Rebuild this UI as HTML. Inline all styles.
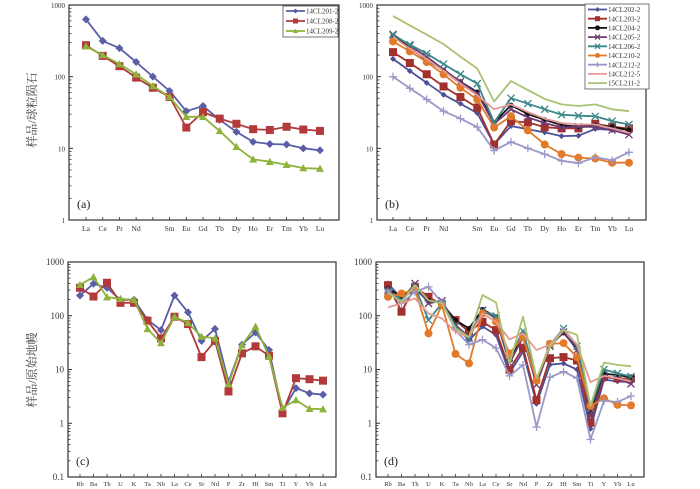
<!DOCTYPE html>
<html><head><meta charset="utf-8"><style>
html,body{margin:0;padding:0;background:#fff;}
svg{display:block;font-family:"Liberation Serif","Noto Serif CJK SC",serif;}
</style></head><body>
<svg id="fig" width="700" height="489" viewBox="0 0 700 489" xmlns="http://www.w3.org/2000/svg">
<text transform="translate(36,110) rotate(-90)" text-anchor="middle" font-size="12" fill="#444" font-family="Liberation Serif, Noto Serif CJK SC, serif">样品/球粒陨石</text>
<text transform="translate(36,370) rotate(-90)" text-anchor="middle" font-size="12" fill="#444" font-family="Liberation Serif, Noto Serif CJK SC, serif">样品/原始地幔</text>
</svg>
<script>
const reeCats=["La","Ce","Pr","Nd","","Sm","Eu","Gd","Tb","Dy","Ho","Er","Tm","Yb","Lu"];
const pmCats=["Rb","Ba","Th","U","K","Ta","Nb","La","Ce","Sr","Nd","P","Zr","Hf","Sm","Ti","Y","Yb","Lu"];
const aNames=["14CL201-2","14CL208-2","14CL209-2"];
const a201=[630,316,250,160,100,63,33,39,25,17,12.3,11.5,11.3,10,9.4];
const a208=[275,195,140,97,70,52,19.5,32,26,22,18.5,18,20,18.3,17.5];
const a209=[265,200,150,108,74,52,27.5,27.5,17.5,10.5,7,6.5,5.9,5.3,5.2];
const bNames=["14CL202-2","14CL203-2","14CL204-2","14CL205-2","14CL206-2","14CL210-2","14CL212-2","14CL212-5","15CL211-2"];
const b202=[177,120,82,56,42,31,11.3,20.5,18.5,16.7,14.8,15,18.7,18,18.7];
const b203=[220,155,108,73,52,37,11.3,24,23,19.7,19,19,22,20,19];
const b204=[370,250,170,123,85,61,23,40,30,25,21,20,21,20,18];
const b205=[390,270,190,126,85,58,22,35,27,22.6,19.5,20,20,18,15.5];
const b206=[380,280,210,150,108,80,23,50,42,35,29.5,28.5,28,24,21.5];
const b210=[310,225,160,108,70,48,19.5,28,17.8,11.3,8.3,7.4,7.2,6.3,6.3];
const b2122=[100,69,48,33,26,19.8,9.3,12.3,10,8.3,6.7,6.2,7.5,6.8,8.8];
const b2125=[360,245,175,120,80,55,35,41,32,26,22.6,21.5,21.5,19,16.5];
const b211=[700,520,385,285,190,130,45,87,65,49,41,39,41,35,33];
const c201=[238,394,331,198,198,84,54,238,116,34,57,5.9,29,49,23,1.64,4.5,3.6,3.4];
const c208=[331,228,411,174,174,81,38,96,70,17,34,3.9,20,27,18,1.53,6.9,6.6,6.2];
const c209=[377,525,222,207,198,57,31,96,74,41,38,5.3,28.5,63,17.5,1.95,2.7,1.86,1.83];
const d202=[398,209,320,180,180,63,35,63,44,8.5,21.5,2.3,12.3,13,10,0.79,6.5,6.0,5.8];
const d203=[370,119,345,225,158,83,50,77,54,9.9,25.5,2.7,16.2,17,14.7,1.02,7.2,6.8,6.8];
const d204=[320,225,355,195,170,83,58,131,96,15,47,6,29,48,25,1.55,8.3,7.9,7.2];
const d205=[297,195,398,170,190,67,40,127,89,13,40,5.2,27,50,23,1.35,7.4,6.9,5.4];
const d206=[280,195,345,83,170,63,38,123,99,16,52,6.4,29,58,27,1.9,10,8.5,7.4];
const d210=[225,260,305,47,158,19.5,13,110,77,20,40,6.3,30,31,17,2.1,2.9,2.2,2.15];
const d2122=[290,170,280,345,174,54,29,36,25,7.6,12.2,0.85,7.2,9.1,6.9,0.5,2.6,2.5,3.2];
const d2125=[143,170,210,110,89,50,40,110,77,36.5,47,23,29,56,29,5.8,7.6,6.9,6];
const d211=[267,182,370,195,170,58,40,242,177,13,96,6.9,27,54,44,2.1,13.5,12.2,11.5];

const NS="http://www.w3.org/2000/svg";
const svg=document.getElementById('fig');
function mk(tag,attrs,parent){const e=document.createElementNS(NS,tag);for(const k in attrs)e.setAttribute(k,attrs[k]);(parent||svg).appendChild(e);return e;}

const styles={
 "14CL201-2":{c:"#5a5ea6",m:"diamond",s:4},
 "14CL208-2":{c:"#b23a3a",m:"square",s:4},
 "14CL209-2":{c:"#8db33a",m:"triangle",s:4},
 "14CL202-2":{c:"#4d5196",m:"diamond",s:3},
 "14CL203-2":{c:"#a2302c",m:"square",s:4},
 "14CL204-2":{c:"#111",m:"circle",s:2.5},
 "14CL205-2":{c:"#6e3b72",m:"x",s:3.5},
 "14CL206-2":{c:"#3c8789",m:"x",s:3.5},
 "14CL210-2":{c:"#e27a2a",m:"circle",s:4},
 "14CL212-2":{c:"#9a98c8",m:"plus",s:4},
 "14CL212-5":{c:"#e59a94",m:"none",s:0},
 "15CL211-2":{c:"#a9c274",m:"none",s:0}
};

function marker(g,m,x,y,s,c){
 if(m==="diamond")return mk('polygon',{points:`${x},${y-s} ${x+s},${y} ${x},${y+s} ${x-s},${y}`,fill:c},g);
 if(m==="square")return mk('rect',{x:x-s,y:y-s,width:2*s,height:2*s,fill:c},g);
 if(m==="triangle")return mk('polygon',{points:`${x},${y-s} ${x+s},${y+s*0.8} ${x-s},${y+s*0.8}`,fill:c},g);
 if(m==="circle")return mk('circle',{cx:x,cy:y,r:s,fill:c},g);
 if(m==="x")return mk('path',{d:`M${x-s},${y-s}L${x+s},${y+s}M${x-s},${y+s}L${x+s},${y-s}`,stroke:c,'stroke-width':1.3},g);
 if(m==="plus")return mk('path',{d:`M${x-s},${y}L${x+s},${y}M${x},${y-s}L${x},${y+s}`,stroke:c,'stroke-width':1.3},g);
}

function panel(p){
 const g=mk('g',{});
 
 
 const yS=v=>p.bottom-(Math.log10(v)-Math.log10(p.ymin))/(Math.log10(p.ymax)-Math.log10(p.ymin))*(p.bottom-p.top);
 const xS=i=>p.x0+i*(p.x1-p.x0)/(p.cats.length-1);
 const frame=mk('rect',{x:p.left,y:p.top,width:p.right-p.left,height:p.bottom-p.top,fill:'none',stroke:'#333','stroke-width':1.2},g);
 
 
 for(let e=Math.log10(p.ymin);e<=Math.log10(p.ymax)+1e-9;e++){
  const v=Math.pow(10,e);const y=yS(v);
  mk('line',{x1:p.left,x2:p.left+4,y1:y,y2:y,stroke:'#333','stroke-width':1},g);
  const lab=v>=1?String(Math.round(v)):String(v);
  const t=mk('text',{x:p.left-4,y:y+3,'text-anchor':'end','font-size':p.tfs,fill:'#333'},g);
  t.textContent=lab;
  
  
  if(e<Math.log10(p.ymax)-1e-9){
   for(let k=2;k<10;k++){const yy=yS(v*k);mk('line',{x1:p.left,x2:p.left+2.5,y1:yy,y2:yy,stroke:'#333','stroke-width':0.8},g);}
  }
 }
 p.cats.forEach((c,i)=>{
  const x=xS(i);
  mk('line',{x1:x,x2:x,y1:p.bottom,y2:p.bottom-3,stroke:'#333','stroke-width':0.8},g);
  if(c){const t=mk('text',{x:x,y:p.bottom+p.xoff,'text-anchor':'middle','font-size':p.xfs,fill:'#333'},g);t.textContent=c;
  
  }
 });
 p.series.forEach(([nm,vals])=>{
  const st=styles[nm];
  const sg=mk('g',{},g);
  
  
  const pts=vals.map((v,i)=>xS(i).toFixed(1)+','+yS(v).toFixed(1)).join(' ');
  mk('polyline',{points:pts,fill:'none',stroke:st.c,'stroke-width':1.8,'stroke-linejoin':'round'},sg);
  vals.forEach((v,i)=>{marker(sg,st.m,xS(i),yS(v),st.s,st.c);});
 });
 const tg=mk('text',{x:p.left+8,y:p.bottom-12,'font-size':12,fill:'#222'},g);
 tg.textContent=p.tag;
 
 
 if(p.legend){
  const L=p.legend;
  const lg=mk('g',{},g);
  
  
  mk('rect',{x:L.x,y:L.y,width:L.w,height:L.h,fill:'#fff',stroke:'#555','stroke-width':0.8},lg);
  p.series.forEach(([nm],i)=>{
   const st=styles[nm];const y=L.y+L.d0+i*L.dy;
   const eg=mk('g',{},lg);
   
   
   mk('line',{x1:L.x+3,x2:L.x+22,y1:y,y2:y,stroke:st.c,'stroke-width':1.8},eg);
   if(st.m!=="none")marker(eg,st.m,L.x+12.5,y,Math.min(st.s,2.5),st.c);
   const t=mk('text',{x:L.x+23,y:y+2.6,'font-size':7,fill:'#333'},eg);t.textContent=nm;
  });
 }
}

panel({name:'panel-a-ree',tag:'(a)',cats:reeCats,left:69,right:339,top:5,bottom:220,x0:86,x1:320,ymin:1,ymax:1000,tfs:7,xfs:7.5,xoff:11,
 series:[[aNames[0],a201],[aNames[1],a208],[aNames[2],a209]],
 legend:{x:283,y:6,w:55,h:31,d0:5,dy:10}});
panel({name:'panel-b-ree',tag:'(b)',cats:reeCats,left:377,right:646,top:5,bottom:220,x0:393,x1:629,ymin:1,ymax:1000,tfs:7,xfs:7.5,xoff:11,
 series:[[bNames[0],b202],[bNames[1],b203],[bNames[2],b204],[bNames[3],b205],[bNames[4],b206],[bNames[5],b210],[bNames[6],b2122],[bNames[7],b2125],[bNames[8],b211]],
 legend:{x:585,y:4,w:64,h:85,d0:5.5,dy:9.2}});
panel({name:'panel-c-spider',tag:'(c)',cats:pmCats,left:68,right:336,top:262,bottom:477,x0:80,x1:323,ymin:0.1,ymax:1000,tfs:9,xfs:6.5,xoff:9,
 series:[[aNames[0],c201],[aNames[1],c208],[aNames[2],c209]]});
panel({name:'panel-d-spider',tag:'(d)',cats:pmCats,left:376,right:644,top:262,bottom:477,x0:388,x1:631,ymin:0.1,ymax:1000,tfs:9,xfs:6.5,xoff:9,
 series:[[bNames[0],d202],[bNames[1],d203],[bNames[2],d204],[bNames[3],d205],[bNames[4],d206],[bNames[5],d210],[bNames[6],d2122],[bNames[7],d2125],[bNames[8],d211]]});
</script>
</body></html>
